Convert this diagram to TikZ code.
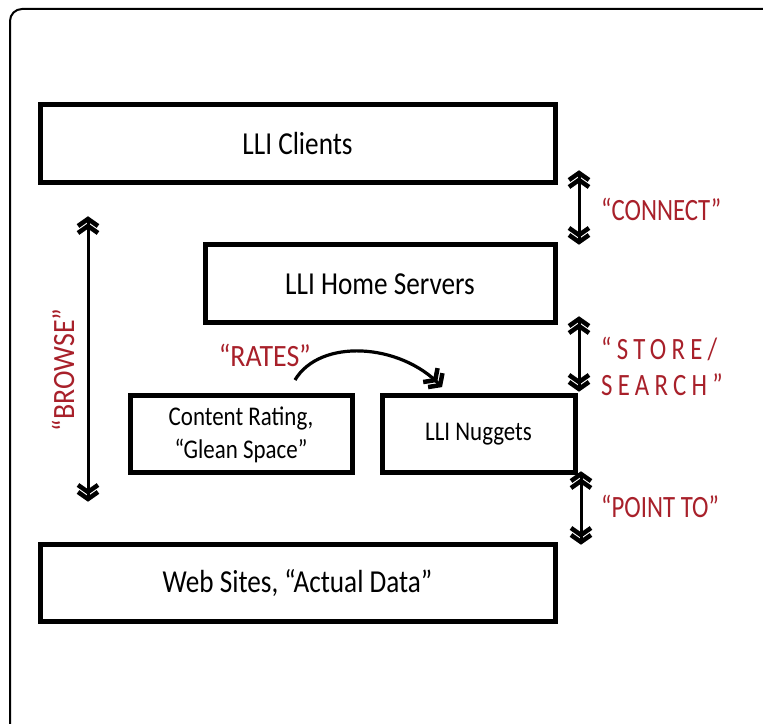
\documentclass[tikz,border=0pt]{standalone}
\usepackage{fontspec}
\setmainfont{Carlito}
\newfontfamily\boxfont{Carlito}[FakeStretch=0.85]
\newfontfamily\lblfontn{Carlito}[FakeStretch=0.8]
\newfontfamily\lblfontw{Carlito}[FakeStretch=0.9]
\newfontfamily\lblfonts{Carlito}[FakeStretch=0.8,LetterSpace=17]
\usetikzlibrary{decorations.markings}
\definecolor{lblred}{RGB}{168,32,42}
\newcommand{\chevfwd}{%
  \draw[line width=4.5pt, line join=miter, miter limit=10] (-6pt,10pt) -- (1pt,0pt) -- (-6pt,-10pt);
  \draw[line width=4.5pt, line join=miter, miter limit=10] (-13pt,10pt) -- (-6pt,0pt) -- (-13pt,-10pt);}
\newcommand{\chevback}{%
  \draw[line width=4.5pt, line join=miter, miter limit=10] (6pt,10pt) -- (-1pt,0pt) -- (6pt,-10pt);
  \draw[line width=4.5pt, line join=miter, miter limit=10] (13pt,10pt) -- (6pt,0pt) -- (13pt,-10pt);}
\tikzset{
  box/.style={draw=black, line width=5pt, rectangle, inner sep=0pt, align=center},
  bigtxt/.style={font=\boxfont\fontsize{32}{34}\selectfont},
  smalltxt/.style={font=\boxfont\fontsize{27}{33}\selectfont},
  lbl/.style={text=lblred, font=\lblfontn\fontsize{31}{36}\selectfont, anchor=west, inner sep=0pt},
  dblarrow/.style={line width=3pt, postaction={decorate}, decoration={markings,
    mark=at position 0 with {\chevback},
    mark=at position 1 with {\chevfwd}}},
  curvearrow/.style={line width=3.2pt, postaction={decorate}, decoration={markings,
    mark=at position 0.995 with {\chevfwd}}}
}
\begin{document}
\begin{tikzpicture}[x=1pt,y=1pt]
\useasboundingbox (0,0) rectangle (763,723);
\clip (0,0) rectangle (763,723);
\fill[white] (0,0) rectangle (763,723);
% outer frame
\draw[line width=2pt, rounded corners=12pt] (10,714) rectangle (800,-37);
% boxes
\node[box, bigtxt, minimum width=515pt, minimum height=78pt] (clients) at (297.5,579) {LLI Clients};
\node[box, bigtxt, minimum width=350pt, minimum height=78pt] (home) at (380,439) {LLI Home Servers};
\node[box, smalltxt, minimum width=222pt, minimum height=77pt] (rating) at (241,288.5) {Content Rating,\\“Glean Space”};
\node[box, smalltxt, minimum width=193pt, minimum height=77pt] (nuggets) at (478.5,288.5) {LLI Nuggets};
\node[box, bigtxt, minimum width=515pt, minimum height=77pt] (web) at (297.5,139.5) {Web Sites, “Actual Data”};
% arrow end points
\coordinate (c1) at (579,549);
\coordinate (c2) at (579,482);
\coordinate (s1) at (579,403);
\coordinate (s2) at (579,335);
\coordinate (p1) at (581,248);
\coordinate (p2) at (581,182);
\coordinate (b1) at (88,503);
\coordinate (b2) at (88,225);
\coordinate (r1) at (295,343);
\coordinate (r2) at (440,338);
\draw[dblarrow] (c1) -- (c2);
\draw[dblarrow] (s1) -- (s2);
\draw[dblarrow] (p1) -- (p2);
\draw[dblarrow] (b1) -- (b2);
\draw[curvearrow] (r1) .. controls (320,385) and (400,380) .. (r2);
% labels
\node[lbl] (lconnect) at (601,514) {“CONNECT”};
\node[lbl, font=\lblfonts\fontsize{31}{36}\selectfont, align=left] (lstore) at (601,357) {“STORE/\\SEARCH”};
\node[lbl] (lpoint) at (601,217) {“POINT TO”};
\node[lbl, font=\lblfontw\fontsize{31}{36}\selectfont, anchor=east] (lrates) at (311,368) {“RATES”};
\node[lbl, font=\lblfontw\fontsize{31}{36}\selectfont, anchor=center, rotate=90] (lbrowse) at (63,353) {“BROWSE”};
\end{tikzpicture}
\end{document}
